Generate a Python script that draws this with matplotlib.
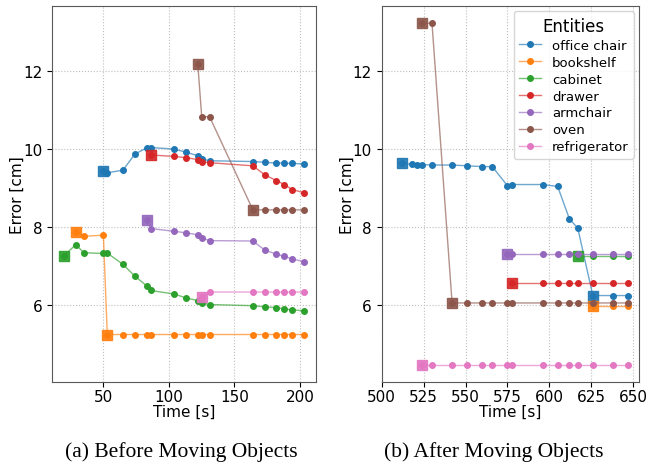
import matplotlib
matplotlib.use("Agg")
from matplotlib import pyplot as plt
from matplotlib.colors import to_rgba

# Entities and colours
names = ["office chair", "bookshelf", "cabinet", "drawer", "armchair", "oven", "refrigerator"]
colors = ["tab:blue", "tab:orange", "tab:green", "tab:red", "tab:purple", "tab:brown", "tab:pink"]

# (a) before moving objects: time [s], error [cm], indices drawn as squares
before_chair_t = [50, 53, 65, 74, 83, 86, 104, 113, 122, 125, 131, 164, 173, 182, 188, 194, 203]
before_chair_e = [9.43, 9.38, 9.45, 9.86, 10.02, 10.03, 9.99, 9.91, 9.82, 9.74, 9.69, 9.67, 9.65, 9.63, 9.63, 9.62, 9.61]
before_chair_sq = [0]

before_shelf_t = [29, 35, 50, 53, 65, 74, 83, 86, 104, 113, 122, 125, 131, 164, 173, 182, 188, 194, 203]
before_shelf_e = [7.85, 7.75, 7.78, 5.23, 5.23, 5.23, 5.23, 5.23, 5.23, 5.23, 5.23, 5.23, 5.23, 5.23, 5.23, 5.23, 5.23, 5.23, 5.23]
before_shelf_sq = [0, 3]

before_cabinet_t = [20, 29, 35, 50, 53, 65, 74, 83, 86, 104, 113, 122, 125, 131, 164, 173, 182, 188, 194, 203]
before_cabinet_e = [7.25, 7.54, 7.33, 7.31, 7.32, 7.03, 6.73, 6.48, 6.36, 6.27, 6.17, 6.10, 6.04, 6.00, 5.97, 5.94, 5.92, 5.89, 5.86, 5.84]
before_cabinet_sq = [0]

before_drawer_t = [86, 104, 113, 122, 125, 131, 164, 173, 182, 188, 194, 203]
before_drawer_e = [9.84, 9.80, 9.77, 9.72, 9.67, 9.64, 9.56, 9.33, 9.18, 9.08, 8.95, 8.87]
before_drawer_sq = [0]

before_armchair_t = [83, 86, 104, 113, 122, 125, 131, 164, 173, 182, 188, 194, 203]
before_armchair_e = [8.18, 7.95, 7.88, 7.84, 7.79, 7.71, 7.64, 7.63, 7.40, 7.29, 7.24, 7.17, 7.10]
before_armchair_sq = [0]

before_oven_t = [122, 125, 131, 164, 173, 182, 188, 194, 203]
before_oven_e = [12.18, 10.82, 10.82, 8.43, 8.43, 8.43, 8.43, 8.43, 8.43]
before_oven_sq = [0, 3]

before_fridge_t = [125, 131, 164, 173, 182, 188, 194, 203]
before_fridge_e = [6.19, 6.32, 6.32, 6.32, 6.32, 6.32, 6.32, 6.32]
before_fridge_sq = [0]

# (b) after moving objects
after_chair_t = [512, 518, 521, 524, 530, 542, 551, 560, 566, 575, 578, 596, 605, 612, 617, 626, 638, 647]
after_chair_e = [9.62, 9.60, 9.59, 9.59, 9.58, 9.58, 9.56, 9.54, 9.54, 9.05, 9.08, 9.08, 9.03, 8.20, 7.96, 6.23, 6.23, 6.23]
after_chair_sq = [0, 15]

after_shelf_t = [626, 638, 647]
after_shelf_e = [5.95, 5.95, 5.95]
after_shelf_sq = [0]

after_cabinet_t = [617, 626, 638, 647]
after_cabinet_e = [7.24, 7.24, 7.24, 7.24]
after_cabinet_sq = [0]

after_drawer_t = [578, 596, 605, 612, 617, 626, 638, 647]
after_drawer_e = [6.56, 6.56, 6.56, 6.56, 6.56, 6.56, 6.56, 6.56]
after_drawer_sq = [0]

after_armchair_t = [575, 578, 596, 605, 612, 617, 626, 638, 647]
after_armchair_e = [7.29, 7.29, 7.29, 7.29, 7.29, 7.29, 7.29, 7.29, 7.29]
after_armchair_sq = [0]

after_oven_t = [524, 530, 542, 551, 560, 566, 575, 578, 596, 605, 612, 617, 626, 638, 647]
after_oven_e = [13.22, 13.22, 6.04, 6.04, 6.04, 6.04, 6.04, 6.04, 6.04, 6.04, 6.04, 6.04, 6.04, 6.04, 6.04]
after_oven_sq = [0, 2]

after_fridge_t = [524, 530, 542, 551, 560, 566, 575, 578, 596, 605, 612, 617, 626, 638, 647]
after_fridge_e = [4.45] * 15
after_fridge_sq = [0]

before = [
    (before_chair_t, before_chair_e, before_chair_sq),
    (before_shelf_t, before_shelf_e, before_shelf_sq),
    (before_cabinet_t, before_cabinet_e, before_cabinet_sq),
    (before_drawer_t, before_drawer_e, before_drawer_sq),
    (before_armchair_t, before_armchair_e, before_armchair_sq),
    (before_oven_t, before_oven_e, before_oven_sq),
    (before_fridge_t, before_fridge_e, before_fridge_sq),
]
after = [
    (after_chair_t, after_chair_e, after_chair_sq),
    (after_shelf_t, after_shelf_e, after_shelf_sq),
    (after_cabinet_t, after_cabinet_e, after_cabinet_sq),
    (after_drawer_t, after_drawer_e, after_drawer_sq),
    (after_armchair_t, after_armchair_e, after_armchair_sq),
    (after_oven_t, after_oven_e, after_oven_sq),
    (after_fridge_t, after_fridge_e, after_fridge_sq),
]

fig = plt.figure(figsize=(6.56, 4.64), dpi=100)
ax1 = fig.add_axes([0.0793, 0.1746, 0.4024, 0.810])
ax2 = fig.add_axes([0.5819, 0.1746, 0.3927, 0.810], sharey=ax1)


def draw(ax, series):
    for (t, e, sq), name, c in zip(series, names, colors):
        ax.plot(t, e, '-o', color=to_rgba(c, 0.65), mfc=c, mec=c, lw=1, ms=4, label=name)
        ax.plot([t[i] for i in sq], [e[i] for i in sq], 's', color=c, ms=6.5, alpha=0.9)
    ax.grid(True, ls=':', color='0.75', lw=0.8)
    ax.set_xlabel('Time [s]', fontsize=11, labelpad=0)
    ax.set_ylabel('Error [cm]', fontsize=11, labelpad=-1.5)
    ax.tick_params(labelsize=11)
    ax.tick_params(axis='x', pad=1.5)
    for s in ax.spines.values():
        s.set_color('0.35')


draw(ax1, before)
draw(ax2, after)

ax1.set_yticks([6, 8, 10, 12])
ax2.tick_params(labelleft=True)
ax2.set_xticks([500, 525, 550, 575, 600, 625, 650])
ax2.set_xlim(left=500)

leg = ax2.legend(title='Entities', loc='upper right', fontsize=9.5, title_fontsize=12,
                 handlelength=1.7, labelspacing=0.3, borderaxespad=0.4)

fig.text(0.276, 0.015, '(a) Before Moving Objects', ha='center', family='Liberation Serif', fontsize=15.5)
fig.text(0.753, 0.015, '(b) After Moving Objects', ha='center', family='Liberation Serif', fontsize=15.5)

fig.savefig('out.png', dpi=100)
